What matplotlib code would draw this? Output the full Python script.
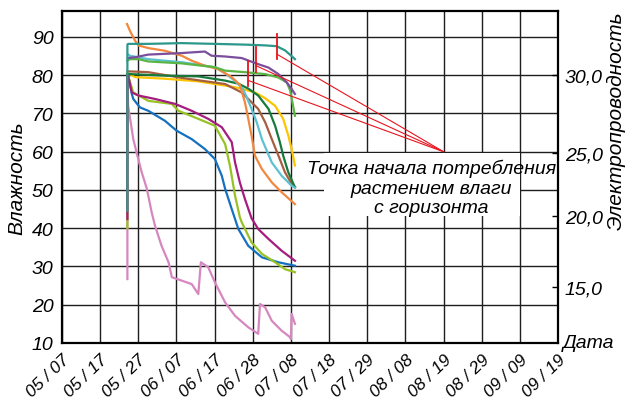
import matplotlib.pyplot as plt
from matplotlib.patches import Rectangle

plt.rcParams['font.family'] = ['Liberation Sans', 'DejaVu Sans']
plt.rcParams['font.style'] = 'italic'

# days counted from 05/07
date_labels = ['05 / 07', '05 / 17', '05 / 27', '06 / 07', '06 / 17', '06 / 28', '07 / 08',
               '07 / 18', '07 / 29', '08 / 08', '08 / 19', '08 / 29', '09 / 09', '09 / 19']
humidity_ticks = [10, 20, 30, 40, 50, 60, 70, 80, 90]
ec_labels = ['30,0', '25,0', '20,0', '15,0']
ec_pos = [80.1, 59.7, 43.2, 24.6]

pink_x = [17.8, 17.8, 18.0, 19.4, 20.3, 21.7, 23.1, 24.4, 25.3, 27.1, 29.0, 29.9, 32.6, 35.3, 37.1,
          37.8, 39.8, 41.6, 44.4, 47.1, 50.7, 53.4, 53.9, 55.3, 57.1, 59.8, 62.1, 62.3, 62.5, 63.4]
pink_y = [26.7, 79.0, 72.0, 63.3, 59.8, 54.6, 50.3, 44.2, 40.7, 35.4, 31.1, 27.2, 26.3, 25.4, 22.8,
          31.1, 29.8, 25.9, 20.6, 17.1, 14.1, 12.4, 20.2, 19.3, 15.8, 13.2, 11.5, 11.0, 17.6, 15.0]

blue_x = [17.8, 18.0, 19.0, 19.4, 21.2, 23.5, 28.0, 31.2, 35.3, 38.9, 41.6, 43.5, 44.4, 46.2, 48.0,
          50.7, 54.4, 58.9, 63.4]
blue_y = [80.0, 80.0, 75.1, 73.8, 71.6, 70.7, 68.1, 65.5, 63.3, 60.7, 58.1, 53.7, 50.3, 45.0, 39.8,
          35.4, 32.4, 31.1, 30.2]

lime_x = [17.8, 17.8, 18.0, 19.4, 23.5, 29.9, 31.7, 37.1, 41.6, 44.4, 45.7, 47.1, 48.4, 48.9, 51.6,
          54.4, 58.0, 60.7, 63.4]
lime_y = [40.0, 80.0, 79.8, 75.5, 73.3, 72.5, 70.7, 68.6, 66.8, 62.0, 56.4, 48.5, 42.9, 41.6, 36.3,
          33.3, 31.1, 29.3, 28.5]

magenta_x = [17.8, 17.8, 18.0, 19.0, 20.8, 25.3, 30.8, 35.3, 39.8, 43.5, 44.4, 46.2, 47.1, 48.4,
             49.8, 51.6, 53.4, 56.2, 59.8, 63.4]
magenta_y = [42.4, 80.0, 79.9, 75.5, 74.7, 73.8, 72.5, 70.7, 68.6, 66.4, 65.1, 62.5, 57.2, 52.0,
             47.6, 42.6, 39.8, 37.2, 34.1, 31.5]

yellow_x = [17.7, 18.0, 19.9, 28.0, 37.1, 44.4, 48.4, 52.5, 55.3, 58.0, 60.2, 61.6, 62.5, 63.4]
yellow_y = [80.5, 80.5, 79.5, 79.1, 78.4, 77.3, 76.6, 75.5, 74.0, 72.0, 68.6, 64.2, 60.7, 56.4]

brown_x = [17.8, 18.5, 23.5, 32.6, 44.4, 48.9, 53.4, 55.3, 57.1, 58.9, 60.7, 62.5, 63.4]
brown_y = [81.0, 81.0, 80.8, 79.3, 77.7, 75.5, 71.2, 67.7, 63.3, 59.0, 54.6, 51.6, 50.8]

dkgreen_x = [17.8, 18.5, 28.0, 37.1, 44.4, 48.0, 50.7, 53.4, 56.2, 58.0, 59.3, 60.2, 61.6, 63.4]
dkgreen_y = [80.3, 80.3, 79.9, 79.7, 78.6, 77.8, 76.5, 74.7, 71.2, 66.8, 62.5, 59.0, 54.6, 50.7]

cyan_x = [17.9, 18.5, 23.5, 32.6, 41.6, 44.4, 47.1, 49.3, 51.6, 53.0, 54.4, 57.1, 59.8, 62.5, 63.4]
cyan_y = [85.5, 85.1, 84.2, 83.4, 82.1, 80.5, 78.5, 76.4, 71.2, 67.7, 63.3, 57.2, 53.7, 51.1, 50.6]

orange_x = [17.7, 18.5, 19.9, 20.8, 23.5, 28.0, 32.6, 35.3, 38.9, 42.5, 46.2, 48.4, 49.8, 50.7,
            51.6, 52.5, 54.4, 57.1, 59.8, 63.4]
orange_y = [93.4, 91.6, 89.0, 87.8, 87.1, 86.4, 85.1, 83.8, 82.5, 81.6, 79.5, 77.5, 72.9, 68.6,
            64.2, 59.0, 55.5, 52.0, 49.4, 46.3]

green_x = [17.8, 18.5, 20.8, 23.5, 32.6, 41.6, 44.4, 49.8, 55.3, 58.9, 61.2, 62.1, 62.8, 63.4]
green_y = [83.8, 84.2, 84.2, 83.6, 83.1, 82.1, 81.2, 80.8, 80.3, 79.4, 78.1, 76.0, 72.5, 69.4]

purple_x = [17.9, 19.9, 23.5, 32.6, 38.9, 40.7, 44.4, 48.9, 53.4, 56.2, 58.9, 61.2, 62.5, 63.4]
purple_y = [84.5, 84.7, 85.4, 85.8, 86.2, 85.1, 84.9, 84.5, 82.9, 82.0, 80.3, 78.1, 76.4, 75.1]

teal_x = [17.8, 17.8, 18.0, 23.5, 32.6, 41.6, 50.0, 55.3, 58.4, 60.7, 62.5, 63.4]
teal_y = [44.6, 88.0, 88.2, 88.2, 88.4, 88.2, 88.0, 87.8, 87.6, 86.5, 85.0, 84.2]

# start of water uptake: marks on three curves and the point the leaders meet
mark_x = [58.4, 52.7, 50.7]
mark_lo = [84.2, 80.8, 77.3]
mark_hi = [90.8, 87.3, 83.8]
lead_y = [85.5, 82.5, 78.6]
target_x, target_y = 103.85, 60.0

series = [
    (pink_x, pink_y, '#d687bf'),
    (blue_x, blue_y, '#1571bf'),
    (lime_x, lime_y, '#97c224'),
    (magenta_x, magenta_y, '#a51d7e'),
    (yellow_x, yellow_y, '#fcc500'),
    (brown_x, brown_y, '#a65f3e'),
    (dkgreen_x, dkgreen_y, '#17793c'),
    (cyan_x, cyan_y, '#5cc1d2'),
    (orange_x, orange_y, '#f2873d'),
    (green_x, green_y, '#5bb545'),
    (purple_x, purple_y, '#7a4d9d'),
    (teal_x, teal_y, '#2c978b'),
]

fig = plt.figure(figsize=(6.25, 4.02), dpi=100)
ax = fig.add_axes([0.0992, 0.1443, 0.7936, 0.8259])

for xs, ys, c in series:
    ax.plot(xs, ys, color=c, lw=1.6, zorder=3)

for mx, lo, hi, ly in zip(mark_x, mark_lo, mark_hi, lead_y):
    ax.plot([mx, mx], [lo, hi], color='#e8141e', lw=1.3, zorder=4)
    ax.plot([mx + 0.1, target_x], [ly, target_y], color='#e8141e', lw=0.8, zorder=4)

xticks = [i * 135 / 13 for i in range(14)]
ax.set_xlim(0, 135)
ax.set_ylim(10, 96.8)
ax.set_xticks(xticks)
ax.set_xticklabels(date_labels, rotation=44, ha='right', va='top',
                   rotation_mode='anchor', fontsize=12.5)
ax.set_yticks(humidity_ticks)
ax.set_yticklabels([str(v) for v in humidity_ticks], fontsize=14)
ax.tick_params(axis='both', length=0)
ax.tick_params(axis='x', pad=6)
ax.tick_params(axis='y', pad=6)
ax.grid(True, color='#1e1e1e', lw=1.0, zorder=1)
ax.set_axisbelow(True)
for s in ax.spines.values():
    s.set_linewidth(1.6)
    s.set_color('black')

ax.set_ylabel('Влажность', fontsize=15, labelpad=4)

ax2 = ax.twinx()
ax2.set_ylim(ax.get_ylim())
ax2.set_yticks(ec_pos)
ax2.set_yticklabels(ec_labels, fontsize=14)
ax2.tick_params(axis='y', direction='in', length=4, width=1.0, pad=5)
for s in ax2.spines.values():
    s.set_visible(False)

ax.text(1.118, 0.672, 'Электропроводность', transform=ax.transAxes, rotation=90,
        ha='center', va='center', fontsize=15)
ax.text(1.01, 0.0, 'Дата', transform=ax.transAxes, ha='left', va='center', fontsize=14)

# white field behind the note
ax.add_patch(Rectangle((0.528, 0.383), 0.395, 0.189, transform=ax.transAxes,
                       facecolor='white', edgecolor='none', zorder=2))
ax.text(0.745, 0.468, 'Точка начала потребления\nрастением влаги\nс горизонта',
        transform=ax.transAxes, ha='center', va='center', fontsize=14,
        linespacing=1.2, zorder=5)

fig.savefig('out.png', dpi=100)
